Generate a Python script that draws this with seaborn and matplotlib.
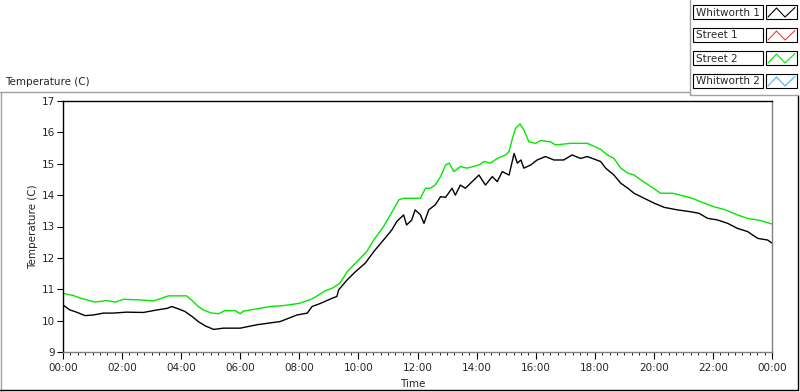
import matplotlib
matplotlib.use("Agg")
import matplotlib.pyplot as plt
import matplotlib.ticker as mticker
from matplotlib.lines import Line2D
from matplotlib.patches import Rectangle
import pandas as pd
import seaborn as sns

# time of day in hours, temperature in degrees C
whitworth1_hours = [0.0, 0.23, 0.4, 0.75, 1.03, 1.37, 1.7, 2.15, 2.72, 3.18, 3.52, 3.68, 3.92,
                    4.13, 4.37, 4.58, 4.82, 5.1, 5.43, 5.77, 6.0, 6.57, 7.35, 7.92, 8.27, 8.43,
                    8.72, 9.1, 9.27, 9.33, 9.62, 9.9, 10.23, 10.52, 10.85, 11.13, 11.3, 11.53,
                    11.63, 11.8, 11.92, 12.1, 12.22, 12.38, 12.6, 12.78, 12.95, 13.17, 13.28,
                    13.45, 13.62, 13.85, 14.08, 14.3, 14.53, 14.7, 14.87, 15.1, 15.27, 15.38,
                    15.5, 15.6, 15.83, 16.05, 16.33, 16.62, 16.95, 17.23, 17.52, 17.75, 18.2,
                    18.37, 18.65, 18.88, 19.12, 19.33, 19.67, 20.02, 20.35, 20.8, 21.25, 21.53,
                    21.82, 22.15, 22.5, 22.83, 23.17, 23.52, 23.85, 24.0]
whitworth1_temp = [10.50, 10.34, 10.29, 10.16, 10.18, 10.24, 10.24, 10.27, 10.26, 10.34, 10.39,
                   10.45, 10.37, 10.29, 10.13, 9.97, 9.83, 9.72, 9.76, 9.76, 9.76, 9.87, 9.97,
                   10.18, 10.24, 10.45, 10.55, 10.71, 10.77, 10.98, 11.30, 11.56, 11.83, 12.20,
                   12.57, 12.89, 13.16, 13.37, 13.05, 13.20, 13.53, 13.37, 13.10, 13.53, 13.69,
                   13.95, 13.93, 14.22, 14.00, 14.32, 14.22, 14.43, 14.64, 14.32, 14.59, 14.43,
                   14.75, 14.64, 15.33, 15.02, 15.12, 14.86, 14.96, 15.12, 15.23, 15.12, 15.12,
                   15.28, 15.17, 15.23, 15.07, 14.86, 14.64, 14.38, 14.22, 14.06, 13.90, 13.74,
                   13.61, 13.53, 13.47, 13.42, 13.26, 13.21, 13.10, 12.94, 12.84, 12.62, 12.57,
                   12.47]

street2_hours = [0.0, 0.35, 0.58, 1.08, 1.48, 1.77, 2.05, 2.62, 3.07, 3.23, 3.57, 4.18, 4.37,
                 4.58, 4.75, 5.03, 5.27, 5.48, 5.83, 6.0, 6.1, 7.02, 7.47, 8.0, 8.45, 8.88,
                 9.15, 9.38, 9.62, 9.95, 10.28, 10.52, 10.85, 11.08, 11.37, 11.53, 12.1, 12.27,
                 12.43, 12.6, 12.78, 12.95, 13.07, 13.23, 13.45, 13.68, 14.08, 14.25, 14.47,
                 14.7, 14.98, 15.1, 15.2, 15.32, 15.47, 15.6, 15.77, 16.0, 16.17, 16.5, 16.67,
                 17.18, 17.75, 18.2, 18.43, 18.65, 18.88, 19.12, 19.33, 19.57, 19.9, 20.23,
                 20.63, 21.02, 21.3, 21.58, 22.03, 22.43, 22.83, 23.17, 23.62, 24.0]
street2_temp = [10.87, 10.80, 10.72, 10.59, 10.64, 10.59, 10.68, 10.66, 10.63, 10.68, 10.79,
                10.79, 10.64, 10.45, 10.34, 10.24, 10.22, 10.32, 10.32, 10.22, 10.30, 10.45,
                10.48, 10.55, 10.70, 10.95, 11.05, 11.20, 11.56, 11.88, 12.20, 12.57, 13.00,
                13.37, 13.85, 13.90, 13.90, 14.22, 14.22, 14.32, 14.59, 14.96, 15.02, 14.75,
                14.91, 14.86, 14.96, 15.07, 15.02, 15.17, 15.28, 15.39, 15.76, 16.13, 16.27,
                16.08, 15.70, 15.65, 15.74, 15.70, 15.60, 15.65, 15.65, 15.46, 15.28, 15.17,
                14.86, 14.70, 14.64, 14.48, 14.27, 14.06, 14.06, 13.97, 13.90, 13.79, 13.63,
                13.53, 13.37, 13.26, 13.19, 13.08]

series_names = ["Whitworth 1", "Street 1", "Street 2", "Whitworth 2"]
series_colors = ["#000000", "#ff3a3a", "#00e800", "#3ab4ff"]
x_ticks = list(range(0, 25, 2))

df = pd.concat([
    pd.DataFrame({"hours": whitworth1_hours, "temp": whitworth1_temp, "series": "Whitworth 1"}),
    pd.DataFrame({"hours": street2_hours, "temp": street2_temp, "series": "Street 2"}),
])

sns.set_style("white")
plt.rcParams["font.family"] = ["DejaVu Sans"]
plt.rcParams["font.size"] = 7.5

W, H = 800, 392


def px(x, y):
    return x / W, 1 - y / H


fig = plt.figure(figsize=(8, 3.92), dpi=100)
ax = fig.add_axes([63 / W, 1 - 352 / H, (772 - 63) / W, (352 - 101) / H])

sns.lineplot(data=df, x="hours", y="temp", hue="series",
             palette=dict(zip(series_names, series_colors)),
             hue_order=series_names, linewidth=1, legend=False, ax=ax, estimator=None, sort=False)

ax.set_xlim(0, 24)
ax.set_ylim(9, 17)
ax.set_xticks(x_ticks)
ax.xaxis.set_major_formatter(mticker.FuncFormatter(lambda v, p: f"{int(v) % 24:02d}:00"))
ax.xaxis.set_minor_locator(mticker.MultipleLocator(0.25))
ax.yaxis.set_major_locator(mticker.MultipleLocator(1))
ax.tick_params(axis="y", which="major", left=True, length=4, width=0.8, pad=1.5,
               color="black", labelsize=7.5)
ax.tick_params(axis="x", which="major", bottom=True, length=5, width=0.8, pad=3,
               color="black", labelsize=7.5)
ax.tick_params(axis="x", which="minor", bottom=True, length=2.5, width=0.6, color="black")

for side, col in [("top", "black"), ("left", "black"), ("bottom", "#808080"), ("right", "#808080")]:
    ax.spines[side].set_visible(True)
    ax.spines[side].set_color(col)
    ax.spines[side].set_linewidth(1)

ax.set_ylabel("Temperature (C)", fontsize=7.5)
ax.yaxis.set_label_coords(-0.042, 0.5)
ax.yaxis.label.set_va("center")
ax.set_xlabel("Time", fontsize=7.5)
ax.xaxis.set_label_coords(0.494, -0.127)
ax.xaxis.label.set_va("center")

# chart caption and panel frame
fig.text(*px(5, 82), "Temperature (C)", ha="left", va="center", fontsize=7.5)
frame_lines = [
    ((0, 690), (92, 92), "#a0a0a0"),
    ((1, 1), (92, 392), "#a0a0a0"),
    ((0, 798), (390, 390), "black"),
    ((798, 798), (95, 390), "black"),
    ((690, 690), (0, 95), "#a0a0a0"),
    ((690, 798), (95, 95), "#a0a0a0"),
]
for xs, ys, col in frame_lines:
    fig.add_artist(Line2D([x / W for x in xs], [1 - y / H for y in ys],
                          color=col, linewidth=1, transform=fig.transFigure))

# legend: name box + swatch box per series
row_tops = [5, 28, 51, 74]
for name, col, top in zip(series_names, series_colors, row_tops):
    x0, y0 = px(693, top + 14)
    fig.add_artist(Rectangle((x0, y0), 70 / W, 14 / H, transform=fig.transFigure,
                             facecolor="white", edgecolor="black", linewidth=0.8))
    fig.text(*px(696, top + 7.5), name, ha="left", va="center", fontsize=7.5)
    x1, _ = px(766, 0)
    fig.add_artist(Rectangle((x1, y0), 31 / W, 14 / H, transform=fig.transFigure,
                             facecolor="white", edgecolor="black", linewidth=0.8))
    zx = [768, 776.5, 785, 795]
    zy = [top + 12, top + 3, top + 12, top + 2.5]
    fig.add_artist(Line2D([x / W for x in zx], [1 - y / H for y in zy], color=col,
                          linewidth=0.8, transform=fig.transFigure))

fig.savefig("out.png", dpi=100, facecolor="white")
